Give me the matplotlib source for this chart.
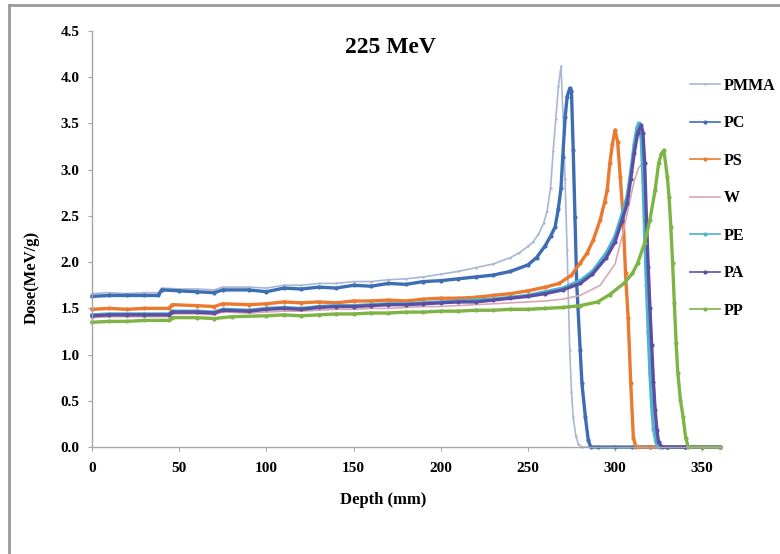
import matplotlib
matplotlib.use("Agg")
import matplotlib.pyplot as plt
from matplotlib.lines import Line2D

# ---------------- data ----------------
zeros_tail = [290, 300, 310, 320, 330, 340, 350, 360]

pmma_depth = [0, 10, 20, 30, 38, 40, 50, 60, 70, 75, 90, 100, 110, 120, 130, 140, 150, 160, 170, 180,
              190, 200, 210, 220, 230, 240, 245, 250, 253, 256, 259, 261, 263, 264.5, 266, 267.5, 269,
              270.2, 271.3, 272.5, 274, 275, 276, 277.5, 279, 281] + zeros_tail
pmma_dose = [1.66, 1.67, 1.66, 1.67, 1.67, 1.72, 1.71, 1.71, 1.70, 1.73, 1.73, 1.72, 1.75, 1.75, 1.77, 1.77,
             1.79, 1.79, 1.81, 1.82, 1.84, 1.87, 1.90, 1.94, 1.98, 2.05, 2.10, 2.17, 2.22, 2.30, 2.42, 2.55,
             2.80, 3.20, 3.55, 3.90, 4.12, 3.57, 2.90, 2.13, 1.05, 0.60, 0.32, 0.12, 0.03, 0.0] + [0.0] * 8

pc_depth = [0, 10, 20, 30, 38, 40, 50, 60, 70, 75, 90, 100, 110, 120, 130, 140, 150, 160, 170, 180,
            190, 200, 210, 220, 230, 240, 250, 255, 260, 263, 265.6, 267.4, 269, 270, 271.4, 272.5, 274,
            275, 276, 277, 278, 280, 281, 283, 284.6, 286] + zeros_tail
pc_dose = [1.63, 1.64, 1.64, 1.64, 1.64, 1.70, 1.69, 1.68, 1.67, 1.70, 1.70, 1.68, 1.72, 1.71, 1.73, 1.72,
           1.75, 1.74, 1.77, 1.76, 1.79, 1.80, 1.82, 1.84, 1.86, 1.90, 1.97, 2.05, 2.18, 2.28, 2.38, 2.57,
           2.80, 3.14, 3.57, 3.79, 3.88, 3.85, 3.21, 2.49, 1.77, 1.05, 0.69, 0.32, 0.08, 0.0] + [0.0] * 8

ps_depth = [0, 10, 20, 30, 44, 46, 60, 70, 75, 90, 100, 110, 120, 130, 140, 150, 160, 170, 180, 190,
            200, 210, 220, 230, 240, 250, 260, 268, 275, 280, 284, 287.5, 291.5, 294, 295.5, 297, 298.5,
            300, 301.5, 303, 304.7, 306, 307.5, 309, 310.5, 312, 320, 330, 340, 350, 360]
ps_dose = [1.49, 1.50, 1.49, 1.50, 1.50, 1.54, 1.53, 1.52, 1.55, 1.54, 1.55, 1.57, 1.56, 1.57, 1.56, 1.58,
           1.58, 1.59, 1.58, 1.60, 1.61, 1.61, 1.62, 1.64, 1.66, 1.69, 1.73, 1.77, 1.86, 1.99, 2.10, 2.24,
           2.46, 2.65, 2.78, 3.07, 3.28, 3.43, 3.30, 2.92, 2.46, 1.88, 1.40, 0.69, 0.10, 0.0,
           0.0, 0.0, 0.0, 0.0, 0.0]

w_depth = [0, 10, 20, 30, 44, 46, 60, 70, 75, 90, 100, 110, 120, 130, 140, 150, 160, 170, 180, 190,
           200, 210, 220, 230, 240, 250, 260, 270, 280, 291.5, 300, 304.6, 308, 311, 313.5, 315.5, 317,
           318.5, 320, 321.5, 323, 324.5, 326, 330, 340, 350, 360]
w_dose = [1.40, 1.41, 1.41, 1.41, 1.41, 1.44, 1.44, 1.43, 1.46, 1.45, 1.46, 1.47, 1.47, 1.48, 1.49, 1.49,
          1.50, 1.50, 1.51, 1.52, 1.52, 1.53, 1.54, 1.55, 1.56, 1.57, 1.58, 1.60, 1.64, 1.75, 1.98, 2.32,
          2.62, 2.88, 3.02, 3.06, 2.85, 2.30, 1.65, 1.00, 0.45, 0.12, 0.0, 0.0, 0.0, 0.0, 0.0]

pe_depth = [0, 10, 20, 30, 44, 46, 60, 70, 75, 90, 100, 110, 120, 130, 140, 150, 160, 170, 180, 190,
            200, 210, 220, 230, 240, 250, 260, 270, 280, 287, 295, 300, 304, 307, 309, 311, 312.5, 313.5,
            315, 316, 317, 318, 319, 320, 321, 322, 323.5, 325, 330, 340, 350, 360]
pe_dose = [1.43, 1.44, 1.44, 1.44, 1.44, 1.47, 1.47, 1.46, 1.49, 1.48, 1.50, 1.51, 1.50, 1.52, 1.53, 1.53,
           1.54, 1.55, 1.55, 1.56, 1.57, 1.58, 1.59, 1.60, 1.62, 1.64, 1.68, 1.72, 1.80, 1.90, 2.10, 2.28,
           2.52, 2.72, 2.98, 3.28, 3.45, 3.50, 3.35, 2.90, 2.30, 1.75, 1.25, 0.80, 0.45, 0.20, 0.05, 0.0,
           0.0, 0.0, 0.0, 0.0]

pa_depth = [0, 10, 20, 30, 44, 46, 60, 70, 75, 90, 100, 110, 120, 130, 140, 150, 160, 170, 180, 190,
            200, 210, 220, 230, 240, 250, 260, 270, 280, 287, 295, 300, 304, 307, 309, 311, 313, 315,
            316, 317, 318, 319, 320, 321, 322, 323, 324, 325, 327, 330, 340, 350, 360]
pa_dose = [1.42, 1.43, 1.43, 1.43, 1.43, 1.46, 1.46, 1.45, 1.48, 1.47, 1.49, 1.50, 1.49, 1.51, 1.52, 1.52,
           1.53, 1.54, 1.54, 1.55, 1.56, 1.57, 1.57, 1.59, 1.61, 1.63, 1.66, 1.70, 1.77, 1.87, 2.05, 2.22,
           2.45, 2.64, 2.90, 3.18, 3.40, 3.48, 3.40, 3.07, 2.46, 1.95, 1.50, 1.10, 0.70, 0.40, 0.18, 0.05,
           0.0, 0.0, 0.0, 0.0, 0.0]

pp_depth = [0, 10, 20, 30, 44, 46, 60, 70, 80, 100, 110, 120, 130, 140, 150, 160, 170, 180, 190, 200,
            210, 220, 230, 240, 250, 260, 270, 280, 290, 297, 305, 310, 313, 317, 320, 323, 325, 326.5,
            328, 330, 331, 332, 333, 334, 335, 336, 337.5, 339, 340.5, 342, 350, 360]
pp_dose = [1.35, 1.36, 1.36, 1.37, 1.37, 1.40, 1.40, 1.39, 1.41, 1.42, 1.43, 1.42, 1.43, 1.44, 1.44, 1.45,
           1.45, 1.46, 1.46, 1.47, 1.47, 1.48, 1.48, 1.49, 1.49, 1.50, 1.51, 1.53, 1.57, 1.65, 1.77, 1.88,
           1.99, 2.21, 2.46, 2.78, 3.07, 3.17, 3.21, 2.92, 2.70, 2.38, 1.99, 1.56, 1.13, 0.80, 0.51, 0.33,
           0.10, 0.0, 0.0, 0.0]

series_names = ["PMMA", "PC", "PS", "W", "PE", "PA", "PP"]
series_colors = ["#A7B8D4", "#3D6DB3", "#E97A30", "#D7A8B6", "#4DB3CF", "#5A4FA2", "#7DB445"]

x_ticks = [0, 50, 100, 150, 200, 250, 300, 350]
y_ticks = [0.0, 0.5, 1.0, 1.5, 2.0, 2.5, 3.0, 3.5, 4.0, 4.5]

title_text = "225 MeV"
x_label = "Depth (mm)"
y_label = "Dose(MeV/g)"

# ---------------- drawing ----------------
serif = ["Liberation Serif", "DejaVu Serif"]
fig = plt.figure(figsize=(7.8, 5.54), dpi=100)
ax = fig.add_axes([0.118, 0.193, 0.808, 0.751])

data = [(pmma_depth, pmma_dose), (pc_depth, pc_dose), (ps_depth, ps_dose), (w_depth, w_dose),
        (pe_depth, pe_dose), (pa_depth, pa_dose), (pp_depth, pp_dose)]
styles = {
    "PMMA": dict(lw=1.2, marker="o", ms=1.8),
    "PC": dict(lw=2.4, marker="o", ms=3.0),
    "PS": dict(lw=2.4, marker="o", ms=3.0),
    "W": dict(lw=1.2, marker=None, ms=0),
    "PE": dict(lw=2.4, marker="o", ms=3.0),
    "PA": dict(lw=2.4, marker="o", ms=3.0),
    "PP": dict(lw=2.4, marker="o", ms=3.0),
}
for (d, v), name, c in zip(data, series_names, series_colors):
    st = styles[name]
    ax.plot(d, v, color=c, lw=st["lw"], marker=st["marker"], ms=st["ms"],
            markeredgewidth=0, label=name, clip_on=False)

ax.set_xlim(0, 361.5)
ax.set_ylim(0, 4.5)
ax.set_xticks(x_ticks)
ax.set_yticks(y_ticks)
ax.set_xticklabels([str(t) for t in x_ticks])
ax.set_yticklabels([f"{t:.1f}" for t in y_ticks])
for lab in ax.get_xticklabels() + ax.get_yticklabels():
    lab.set_fontfamily(serif)
    lab.set_fontweight("bold")
    lab.set_fontsize(11)

for s in ["top", "right"]:
    ax.spines[s].set_visible(False)
for s in ["left", "bottom"]:
    ax.spines[s].set_color("#A6A6A6")
    ax.spines[s].set_linewidth(1.0)
ax.tick_params(axis="both", direction="out", length=3, width=0.8, color="#A6A6A6")
ax.tick_params(axis="y", pad=6)
ax.tick_params(axis="x", pad=8)

fig.text(0.50, 0.915, title_text, ha="center", va="center", fontsize=17,
         fontweight="bold", family=serif)
fig.text(0.491, 0.097, x_label, ha="center", va="center", fontsize=12,
         fontweight="bold", family=serif)
fig.text(0.040, 0.50, y_label, ha="center", va="center", fontsize=12,
         fontweight="bold", family=serif, rotation=90)

leg = ax.legend(loc="upper left", bbox_to_anchor=(0.866, 0.886), bbox_transform=fig.transFigure,
                frameon=False, handlelength=1.9, handletextpad=0.25, labelspacing=1.35,
                prop=dict(family=serif, weight="bold", size=11.5))
for h in leg.legend_handles:
    h.set_linewidth(1.2)

# chart-area border (left and top edges visible in the crop)
fig.add_artist(Line2D([0.0115, 0.0115], [0.0, 0.991], transform=fig.transFigure, color="#9A9A9A", lw=2))
fig.add_artist(Line2D([0.0115, 1.0], [0.991, 0.991], transform=fig.transFigure, color="#9A9A9A", lw=2))

fig.savefig("out.png", dpi=100, facecolor="white")
